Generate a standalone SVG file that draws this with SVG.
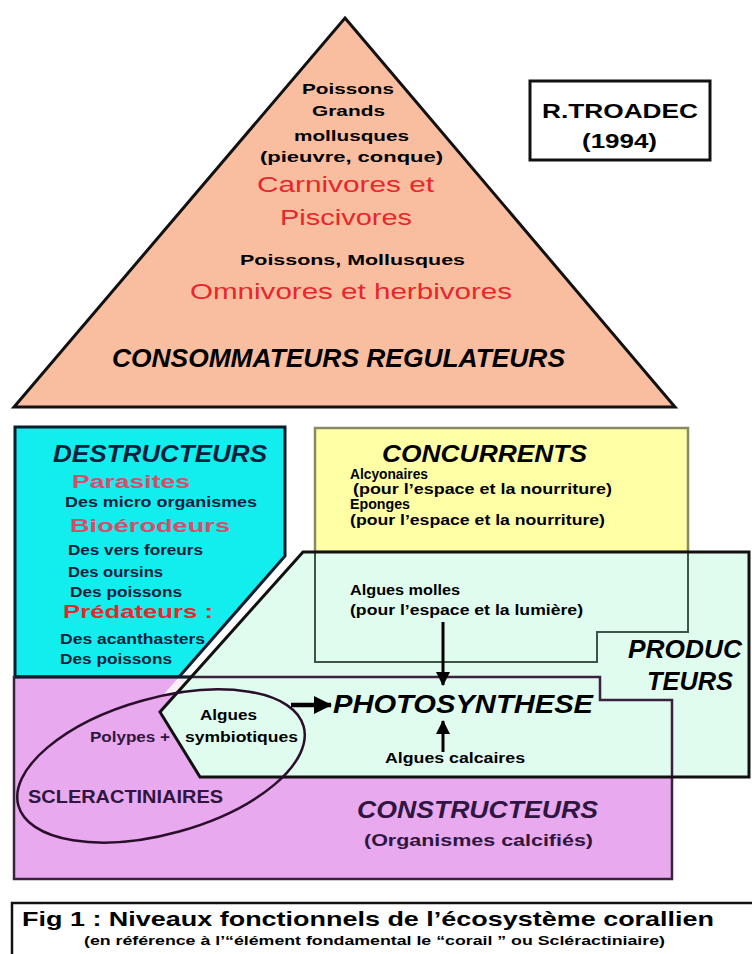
<svg xmlns="http://www.w3.org/2000/svg" width="752" height="954" viewBox="0 0 752 954">
<style>
text{font-family:"Liberation Sans",Arial,Helvetica,sans-serif;font-weight:bold}
.it{font-style:italic}
.n{font-weight:normal}
.red{fill:#e8262b}
.pk{fill:#d84d68}
.nv{fill:#0d1f3c}
.pu{fill:#2e1640}
.s14{font-size:14px}
.edge{fill:none;stroke:#111;stroke-width:3;stroke-linejoin:miter}
.thin{fill:none;stroke:#3e5446;stroke-width:2}
</style>
<defs>
<marker id="ah" markerWidth="14" markerHeight="14" refX="13" refY="7" orient="auto" markerUnits="userSpaceOnUse"><path d="M0,0 L14,7 L0,14 z" fill="#000"/></marker>
<marker id="ah2" markerWidth="18" markerHeight="18" refX="17" refY="9" orient="auto" markerUnits="userSpaceOnUse"><path d="M0,0 L18,9 L0,18 z" fill="#000"/></marker>
</defs>
<rect width="752" height="954" fill="#fff"/>

<g id="pyramid">
<polygon points="345,18 675,407 14,407" fill="#f9be9f" stroke="#111" stroke-width="3"/>
<text x="302" y="94" font-size="15" textLength="92" lengthAdjust="spacingAndGlyphs">Poissons</text>
<text x="312" y="116" font-size="15" textLength="73" lengthAdjust="spacingAndGlyphs">Grands</text>
<text x="294" y="141" font-size="15" textLength="115" lengthAdjust="spacingAndGlyphs">mollusques</text>
<text x="260" y="162" font-size="15" textLength="183" lengthAdjust="spacingAndGlyphs">(pieuvre, conque)</text>
<text x="257" y="192" font-size="22" class="n red" textLength="177" lengthAdjust="spacingAndGlyphs">Carnivores et</text>
<text x="280" y="225" font-size="22" class="n red" textLength="132" lengthAdjust="spacingAndGlyphs">Piscivores</text>
<text x="240" y="265" font-size="15" textLength="225" lengthAdjust="spacingAndGlyphs">Poissons, Mollusques</text>
<text x="190" y="299" font-size="22" class="n red" textLength="322" lengthAdjust="spacingAndGlyphs">Omnivores et herbivores</text>
<text x="112" y="367" font-size="25" class="it" textLength="453" lengthAdjust="spacingAndGlyphs">CONSOMMATEURS REGULATEURS</text>
</g>

<g id="troadec">
<rect x="530" y="81" width="180" height="79" fill="#fff" stroke="#111" stroke-width="3"/>
<text x="542" y="118" font-size="21" textLength="156" lengthAdjust="spacingAndGlyphs">R.TROADEC</text>
<text x="582" y="148" font-size="21" textLength="75" lengthAdjust="spacingAndGlyphs">(1994)</text>
</g>

<g id="concurrents">
<rect x="315" y="428" width="373" height="124" fill="#ffffa6" stroke="#8a8a62" stroke-width="2.5"/>
<text x="382" y="462" font-size="23" class="it" textLength="205" lengthAdjust="spacingAndGlyphs">CONCURRENTS</text>
<text x="350" y="479" class="s14" textLength="78" lengthAdjust="spacingAndGlyphs">Alcyonaires</text>
<text x="353" y="494" class="s14" textLength="259" lengthAdjust="spacingAndGlyphs">(pour l’espace et la nourriture)</text>
<text x="350" y="509" class="s14" textLength="60" lengthAdjust="spacingAndGlyphs">Eponges</text>
<text x="350" y="525" class="s14" textLength="255" lengthAdjust="spacingAndGlyphs">(pour l’espace et la nourriture)</text>
</g>

<g id="destructeurs">
<polygon points="15,427 285,427 285,556 179,677 15,677" fill="#12eeee" stroke="#0b1d2e" stroke-width="3"/>
<text x="53" y="462" font-size="23" class="it nv" textLength="214" lengthAdjust="spacingAndGlyphs">DESTRUCTEURS</text>
<text x="72" y="488" font-size="18" class="pk" textLength="118" lengthAdjust="spacingAndGlyphs">Parasites</text>
<text x="65" y="507" class="s14 nv" textLength="192" lengthAdjust="spacingAndGlyphs">Des micro organismes</text>
<text x="70" y="532" font-size="18" class="pk" textLength="160" lengthAdjust="spacingAndGlyphs">Bioérodeurs</text>
<text x="68" y="555" class="s14 nv" textLength="135" lengthAdjust="spacingAndGlyphs">Des vers foreurs</text>
<text x="68" y="577" class="s14 nv" textLength="95" lengthAdjust="spacingAndGlyphs">Des oursins</text>
<text x="70" y="597" class="s14 nv" textLength="112" lengthAdjust="spacingAndGlyphs">Des poissons</text>
<text x="63" y="618" font-size="19" class="red" textLength="150" lengthAdjust="spacingAndGlyphs">Prédateurs :</text>
<text x="60" y="644" class="s14 nv" textLength="145" lengthAdjust="spacingAndGlyphs">Des acanthasters</text>
<text x="60" y="664" class="s14 nv" textLength="112" lengthAdjust="spacingAndGlyphs">Des poissons</text>
</g>

<g id="constructeurs">
<polygon points="14,677 600,677 600,700 672,700 672,879 14,879" fill="#e8a9ee"/>
<polygon points="179,677 191,677 176,694 164,694" fill="#fbeef4"/>
</g>

<g id="producteurs">
<polygon points="303,552 749,552 749,777 200,777 160,712" fill="#e0fcef"/>
<polyline class="thin" points="315,552 315,662 597,662 597,632 688,632 688,552"/>
<polyline class="thin" points="191,677 600,677 600,700 672,700 672,777"/>
<text x="350" y="595" class="s14" textLength="110" lengthAdjust="spacingAndGlyphs">Algues molles</text>
<text x="350" y="615" class="s14" textLength="233" lengthAdjust="spacingAndGlyphs">(pour l’espace et la lumière)</text>
<text x="628" y="658" font-size="25" class="it" textLength="114" lengthAdjust="spacingAndGlyphs">PRODUC</text>
<text x="647" y="690" font-size="25" class="it" textLength="86" lengthAdjust="spacingAndGlyphs">TEURS</text>
<text x="385" y="763" class="s14" textLength="140" lengthAdjust="spacingAndGlyphs">Algues calcaires</text>
<text x="200" y="720" class="s14" textLength="57" lengthAdjust="spacingAndGlyphs">Algues</text>
<text x="185" y="742" class="s14" textLength="113" lengthAdjust="spacingAndGlyphs">symbiotiques</text>
</g>

<g id="constructeurs-outline">
<polygon points="14,677 600,677 600,700 672,700 672,879 14,879" fill="none" stroke="#3a223e" stroke-width="2.5"/>
<line x1="15" y1="677" x2="191" y2="677" stroke="#0b1d2e" stroke-width="3"/>
<polygon class="edge" points="303,552 749,552 749,777 200,777 160,712"/>
<text x="90" y="742" class="s14 pu" textLength="80" lengthAdjust="spacingAndGlyphs">Polypes +</text>
<text x="357" y="818" font-size="23" class="it pu" textLength="241" lengthAdjust="spacingAndGlyphs">CONSTRUCTEURS</text>
<text x="364" y="846" font-size="17" class="pu" textLength="229" lengthAdjust="spacingAndGlyphs">(Organismes calcifiés)</text>
</g>

<g id="scleractiniaires">
<ellipse cx="161" cy="766" rx="148" ry="68" transform="rotate(-15.5 161 766)" fill="none" stroke="#2a0f2a" stroke-width="2.5"/>
<text x="28" y="803" font-size="19" class="pu" textLength="195" lengthAdjust="spacingAndGlyphs">SCLERACTINIAIRES</text>
</g>

<g id="photosynthese">
<text x="333" y="713" font-size="25" class="it" textLength="260" lengthAdjust="spacingAndGlyphs">PHOTOSYNTHESE</text>
</g>

<g id="connectors" stroke="#000" fill="none">
<line x1="443" y1="622" x2="443" y2="685" stroke-width="3" marker-end="url(#ah)"/>
<line x1="443" y1="752" x2="443" y2="721" stroke-width="3" marker-end="url(#ah)"/>
<line x1="291" y1="705" x2="331" y2="705" stroke-width="4.5" marker-end="url(#ah2)"/>
</g>

<g id="caption">
<rect x="12" y="903" width="760" height="70" fill="#fff" stroke="#111" stroke-width="2.5"/>
<text x="22" y="926" font-size="21" textLength="692" lengthAdjust="spacingAndGlyphs">Fig 1 : Niveaux fonctionnels de l’écosystème corallien</text>
<text x="84" y="945" font-size="12" textLength="581" lengthAdjust="spacingAndGlyphs">(en référence à l’“élément fondamental le “corail ” ou Scléractiniaire)</text>
</g>
</svg>
